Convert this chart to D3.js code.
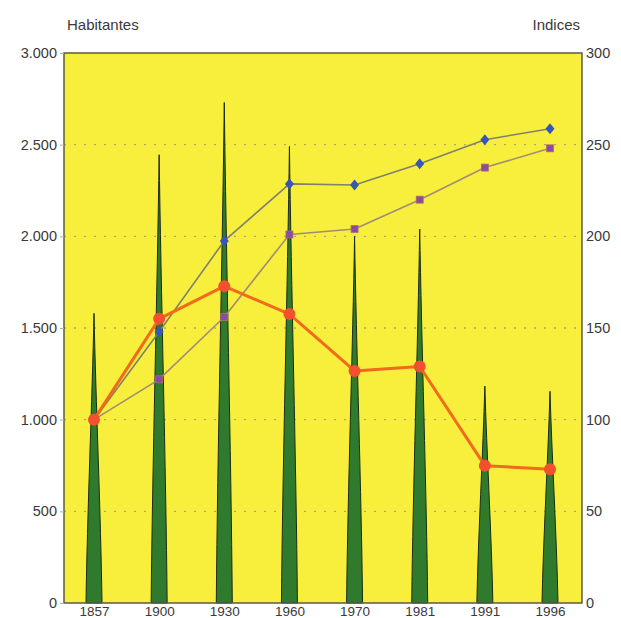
<!DOCTYPE html>
<html>
<head>
<meta charset="utf-8">
<script src="https://cdnjs.cloudflare.com/ajax/libs/d3/7.8.5/d3.min.js"></script>
<style>
  html, body { margin: 0; padding: 0; background: #ffffff; }
  svg { display: block; }
  text { font-family: "Liberation Sans", Arial, sans-serif; fill: #3a3a3a; }
</style>
</head>
<body>
<script>
// Census years
const years = ["1857", "1900", "1930", "1960", "1970", "1981", "1991", "1996"];
// Inhabitants (left axis, drawn as spikes)
const habitantes = [1580, 2445, 2730, 2490, 2000, 2040, 1183, 1155];
// Index series (right axis, base 100 in 1857)
const indiceAzul = [100, 148, 197.5, 228.6, 228, 239.6, 252.7, 258.7];
const indiceMorado = [100, 122, 156, 201, 204, 220, 237.5, 248];
const indiceNaranja = [100, 155, 172.8, 157.6, 126.6, 129, 74.9, 73];
// Axis ticks
const leftTicks = [0, 500, 1000, 1500, 2000, 2500, 3000];
const rightTicks = [0, 50, 100, 150, 200, 250, 300];

const W = 621, H = 618;
const plot = { left: 64, right: 582, top: 53, bottom: 603 };

const svg = d3.select("body").append("svg").attr("width", W).attr("height", H);

const x = d3.scalePoint().domain(years).range([94, 550]);
const yL = d3.scaleLinear().domain([0, 3000]).range([plot.bottom, plot.top]);
const yR = d3.scaleLinear().domain([0, 300]).range([plot.bottom, plot.top]);

// Plot background
svg.append("rect")
  .attr("x", plot.left).attr("y", plot.top)
  .attr("width", plot.right - plot.left).attr("height", plot.bottom - plot.top)
  .attr("fill", "#f8ef3c");

// Dotted horizontal gridlines
svg.append("g").selectAll("line")
  .data(leftTicks.filter(d => d > 0 && d < 3000))
  .join("line")
  .attr("x1", plot.left).attr("x2", plot.right)
  .attr("y1", d => yL(d)).attr("y2", d => yL(d))
  .attr("stroke", "#b0a66a").attr("stroke-width", 1.3)
  .attr("stroke-dasharray", "2,8");

// Needle-shaped spikes for inhabitants
const base = yL(0);
const halfW = 8;
svg.append("g").selectAll("path")
  .data(years.map((yr, i) => ({ yr, v: habitantes[i] })))
  .join("path")
  .attr("d", d => {
    const cx = x(d.yr), top = yL(d.v), h = base - top;
    return `M${cx - halfW},${base}` +
      `C${cx - halfW * 0.85},${base - h * 0.3} ${cx - 1.8},${top + h * 0.3} ${cx},${top}` +
      `C${cx + 1.8},${top + h * 0.3} ${cx + halfW * 0.85},${base - h * 0.3} ${cx + halfW},${base}Z`;
  })
  .attr("fill", "#2f7a2c")
  .attr("stroke", "#1c2c14").attr("stroke-width", 1);

// Index lines
function drawSeries(values, lineColor, lineWidth) {
  const line = d3.line().x((d, i) => x(years[i])).y(d => yR(d));
  svg.append("path").datum(values)
    .attr("d", line).attr("fill", "none")
    .attr("stroke", lineColor).attr("stroke-width", lineWidth)
    .attr("stroke-linejoin", "round");
}
drawSeries(indiceMorado, "#a08c78", 1.6);
drawSeries(indiceAzul, "#7f8070", 1.6);
drawSeries(indiceNaranja, "#f26a1c", 3);

// Markers
svg.append("g").selectAll("rect")
  .data(indiceMorado)
  .join("rect")
  .attr("x", (d, i) => x(years[i]) - 3.5).attr("y", d => yR(d) - 3.5)
  .attr("width", 7).attr("height", 7)
  .attr("fill", "#8a4aa8").attr("stroke", "#b07060").attr("stroke-width", 0.8);

svg.append("g").selectAll("path")
  .data(indiceAzul)
  .join("path")
  .attr("d", (d, i) => {
    const cx = x(years[i]), cy = yR(d);
    return `M${cx},${cy - 5.5}L${cx + 4.5},${cy}L${cx},${cy + 5.5}L${cx - 4.5},${cy}Z`;
  })
  .attr("fill", "#3656b8");

svg.append("g").selectAll("circle")
  .data(indiceNaranja)
  .join("circle")
  .attr("cx", (d, i) => x(years[i])).attr("cy", d => yR(d))
  .attr("r", 6)
  .attr("fill", "#f2502e");

// Plot frame
svg.append("rect")
  .attr("x", plot.left).attr("y", plot.top)
  .attr("width", plot.right - plot.left).attr("height", plot.bottom - plot.top)
  .attr("fill", "none").attr("stroke", "#5a5a48").attr("stroke-width", 1.5);

// Left axis (inhabitants)
const fmt = d => d3.format(",")(d).replace(/,/g, ".");
const leftAxis = d3.axisLeft(yL).tickValues(leftTicks).tickFormat(fmt).tickSize(4).tickPadding(3);
const gL = svg.append("g").attr("transform", `translate(${plot.left},0)`).call(leftAxis);
gL.select(".domain").remove();
gL.selectAll(".tick line").attr("stroke", "#b0b0a0");
gL.selectAll("text").attr("font-size", 14.5).style("fill", "#3a3a3a");

// Right axis (indices)
const rightAxis = d3.axisRight(yR).tickValues(rightTicks).tickSize(0).tickPadding(4);
const gR = svg.append("g").attr("transform", `translate(${plot.right},0)`).call(rightAxis);
gR.select(".domain").remove();
gR.selectAll("text").attr("font-size", 14.5).style("fill", "#3a3a3a");

// Year labels along the bottom
const bottomAxis = d3.axisBottom(x).tickSize(0).tickPadding(0);
const gB = svg.append("g").attr("transform", `translate(0,${plot.bottom})`).call(bottomAxis);
gB.select(".domain").remove();
gB.selectAll("text").attr("font-size", 13.5).attr("dy", "0").attr("y", 12.5)
  .style("fill", "#3a3a3a");

// Axis titles
svg.append("text").attr("x", 67).attr("y", 30).attr("font-size", 15).text("Habitantes");
svg.append("text").attr("x", 580).attr("y", 30).attr("font-size", 15)
  .attr("text-anchor", "end").text("Indices");
</script>
</body>
</html>
